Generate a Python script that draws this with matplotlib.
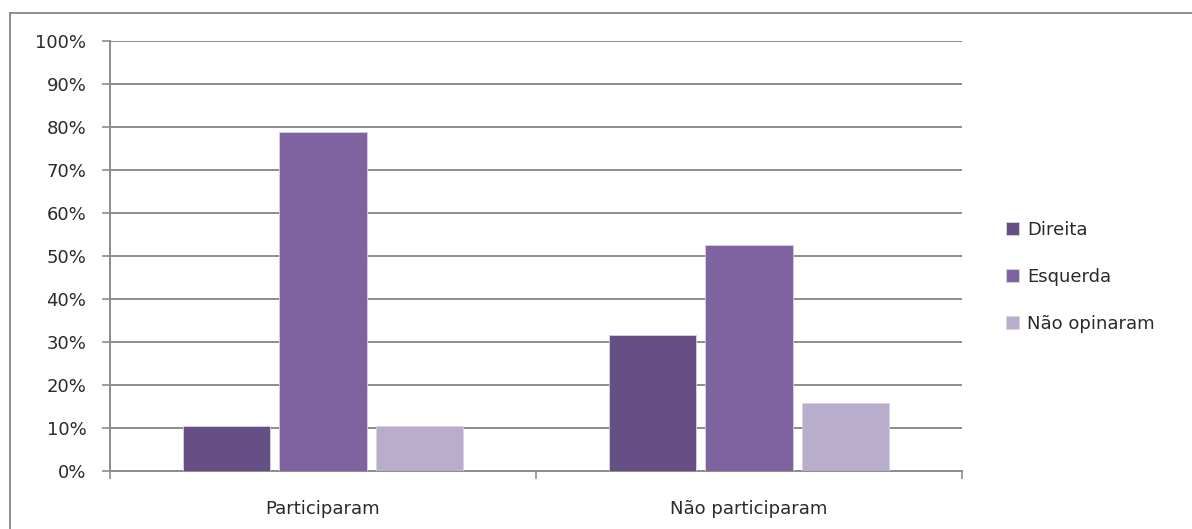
import matplotlib.pyplot as plt
import numpy as np
from matplotlib.patches import Rectangle

# data (percent)
categories = ['Participaram', 'Não participaram']
series_names = ['Direita', 'Esquerda', 'Não opinaram']
direita = [10.5, 31.6]
esquerda = [78.9, 52.6]
nao_opinaram = [10.5, 15.8]
yticks = [0, 10, 20, 30, 40, 50, 60, 70, 80, 90, 100]

colors = ['#664F84', '#7F63A0', '#B8AECB']
grid_color = '#8C8C8C'
text_color = '#2A2A2A'

fig = plt.figure(figsize=(11.92, 5.29), dpi=100)
ax = fig.add_axes([110 / 1192, 1 - 471 / 529, 852 / 1192, 430 / 529])

x = np.arange(len(categories))
width = 0.206
step = 0.2265
for i, (vals, name) in enumerate(zip([direita, esquerda, nao_opinaram], series_names)):
    ax.bar(x + (i - 1) * step, vals, width, color=colors[i], label=name,
           edgecolor='#D8D0E4', linewidth=0.6, zorder=3)

ax.set_xlim(-0.5, 1.5)
ax.set_ylim(0, 100)
ax.set_yticks(yticks)
ax.set_yticklabels([f'{t}%' for t in yticks])
ax.yaxis.grid(True, color=grid_color, linewidth=1.4, zorder=0)

# boundary ticks on the category axis, labels in between
ax.set_xticks([-0.5, 0.5, 1.5])
ax.set_xticklabels([])
ax.set_xticks(x, minor=True)
ax.set_xticklabels(categories, minor=True)
ax.tick_params(axis='x', which='major', length=6, width=1.2, color=grid_color, direction='out')
ax.tick_params(axis='x', which='minor', length=0, pad=21, labelsize=13, labelcolor=text_color)
ax.tick_params(axis='y', length=6, width=1.2, color=grid_color, pad=11, labelsize=13, labelcolor=text_color)

for s in ['top', 'right']:
    ax.spines[s].set_visible(False)
for s in ['left', 'bottom']:
    ax.spines[s].set_color(grid_color)
    ax.spines[s].set_linewidth(1.4)

fig.legend(loc='center left', bbox_to_anchor=(990 / 1192, 1 - 277 / 529), frameon=False,
           fontsize=13, handlelength=0.7, handleheight=0.7, handletextpad=0.45,
           labelspacing=1.6, labelcolor=text_color)

# outer chart frame
fig.patches.append(Rectangle((10 / 1192, -0.1), 1.2, 1.1 - 13 / 529, transform=fig.transFigure,
                             fill=False, edgecolor='#8C8C8C', linewidth=1.4))

fig.savefig('out.png', dpi=100)
